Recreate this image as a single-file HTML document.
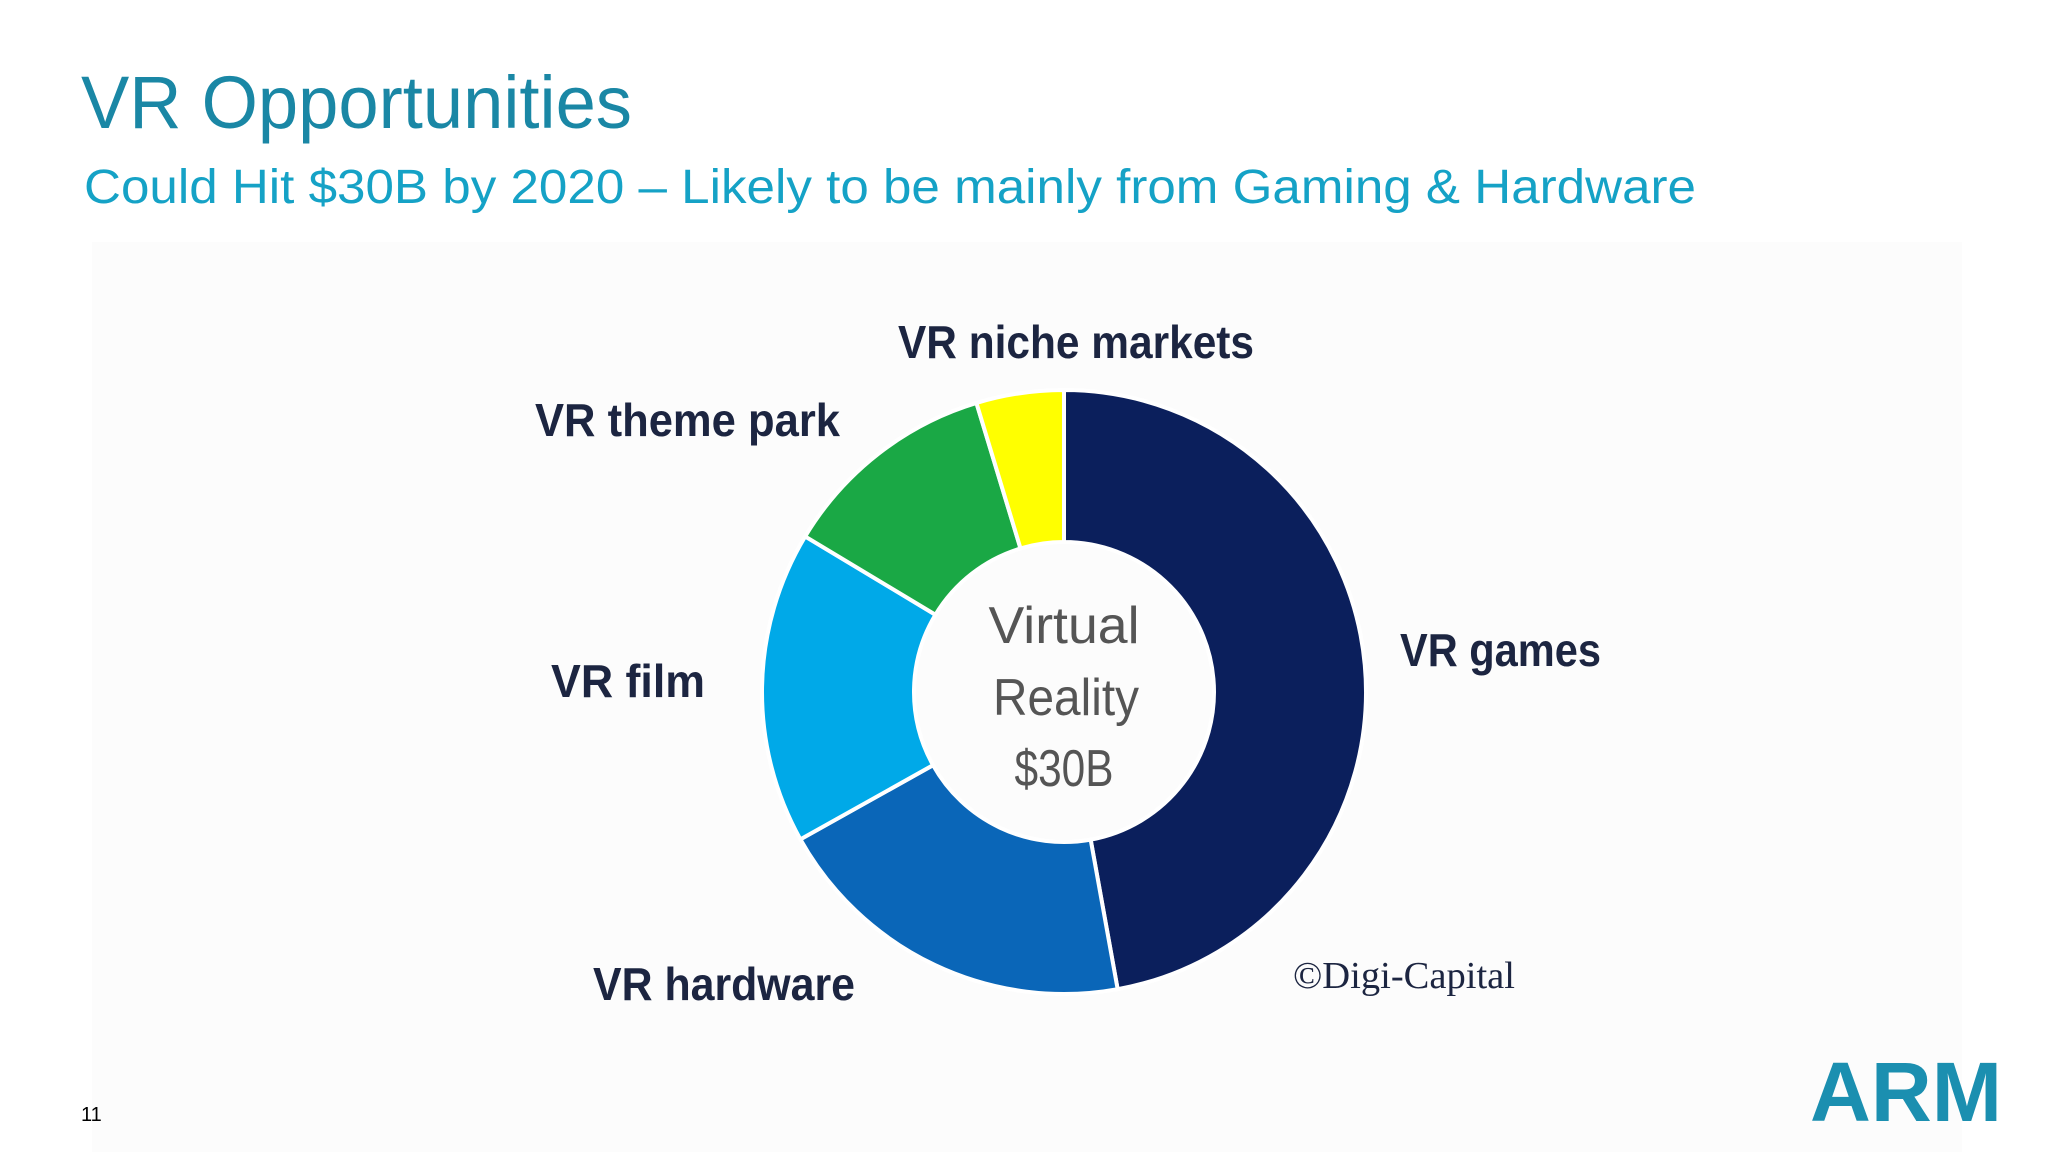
<!DOCTYPE html>
<html><head><meta charset="utf-8"><style>
html,body{margin:0;padding:0;background:#fff;}
body{width:2048px;height:1152px;overflow:hidden;position:relative;font-family:"Liberation Sans",sans-serif;}
</style></head><body>
<svg width="2048" height="1152" viewBox="0 0 2048 1152" xmlns="http://www.w3.org/2000/svg">
<rect x="92" y="242" width="1870" height="910" fill="#fcfcfc"/>
<text x="81" y="128" font-size="74" fill="#1a87a5" font-family="Liberation Sans, sans-serif" textLength="551" lengthAdjust="spacingAndGlyphs">VR Opportunities</text>
<text x="84" y="203" font-size="48" fill="#15a2c6" font-family="Liberation Sans, sans-serif" textLength="1612" lengthAdjust="spacingAndGlyphs">Could Hit $30B by 2020 – Likely to be mainly from Gaming &amp; Hardware</text>
<g id="donut"></g>
<g font-family="Liberation Sans, sans-serif" font-weight="bold" fill="#1c2541" font-size="46">
<text x="898" y="358" textLength="356" lengthAdjust="spacingAndGlyphs">VR niche markets</text>
<text x="535" y="436" textLength="305" lengthAdjust="spacingAndGlyphs">VR theme park</text>
<text x="551" y="697" textLength="154" lengthAdjust="spacingAndGlyphs">VR film</text>
<text x="593" y="1000" textLength="262" lengthAdjust="spacingAndGlyphs">VR hardware</text>
<text x="1400" y="666" textLength="201" lengthAdjust="spacingAndGlyphs">VR games</text>
</g>
<g font-family="Liberation Sans, sans-serif" fill="#555" font-size="52" text-anchor="middle">
<text x="1064" y="643" textLength="151" lengthAdjust="spacingAndGlyphs">Virtual</text>
<text x="1066" y="715" textLength="146" lengthAdjust="spacingAndGlyphs">Reality</text>
<text x="1064" y="786" textLength="99" lengthAdjust="spacingAndGlyphs">$30B</text>
</g>
<text x="1293" y="988" font-family="Liberation Serif, serif" font-size="38" fill="#1c2541" textLength="222" lengthAdjust="spacingAndGlyphs">©Digi-Capital</text>
<text x="81" y="1121" font-size="20" fill="#000">11</text>
<text x="1810" y="1121" font-size="84" font-weight="bold" fill="#1b8fb0" textLength="192" lengthAdjust="spacingAndGlyphs">ARM</text>
</svg>
<script>
const categories = ["VR games","VR hardware","VR film","VR theme park","VR niche markets"];
const values = [14.1, 5.9, 5.0, 3.5, 1.4];
const colors = ["#0b1f5c","#0a66b8","#00a9e8","#1aa845","#ffff00"];
const cx = 1064, cy = 692, R = 302, r = 150;
const total = values.reduce((a,b)=>a+b,0);
function pt(rad, a){ return [cx + rad*Math.sin(a), cy - rad*Math.cos(a)]; }
const g = document.getElementById('donut');
let acc = 0;
values.forEach((v,i)=>{
  const a0 = acc/total*2*Math.PI; acc += v; const a1 = acc/total*2*Math.PI;
  const large = (a1-a0) > Math.PI ? 1 : 0;
  const [x0,y0]=pt(R,a0),[x1,y1]=pt(R,a1),[x2,y2]=pt(r,a1),[x3,y3]=pt(r,a0);
  const p = document.createElementNS('http://www.w3.org/2000/svg','path');
  p.setAttribute('d',`M${x0},${y0} A${R},${R} 0 ${large} 1 ${x1},${y1} L${x2},${y2} A${r},${r} 0 ${large} 0 ${x3},${y3} Z`);
  p.setAttribute('fill',colors[i]);
  p.setAttribute('stroke','#fff');
  p.setAttribute('stroke-width','4');
  
  
  g.appendChild(p);
});
</script>
</body></html>
